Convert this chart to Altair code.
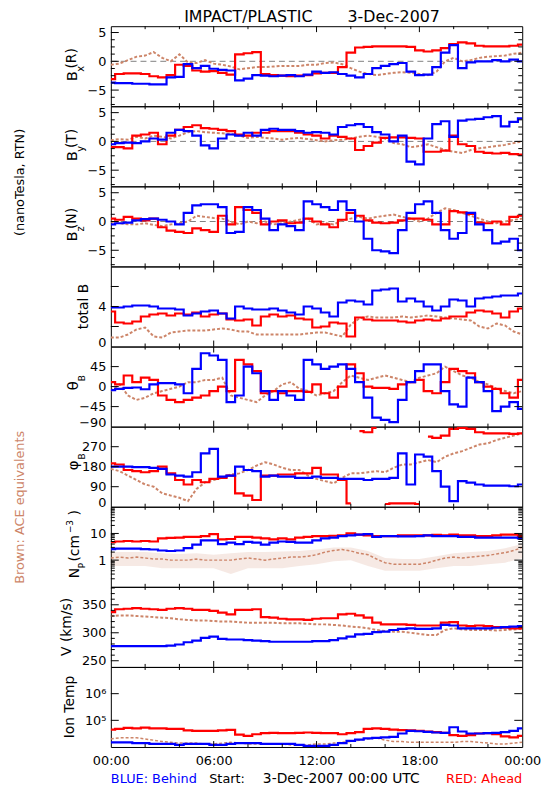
import altair as alt
import pandas as pd

FONT = "DejaVu Sans"
BLUE = "#0000ff"
RED = "#ff0000"
BROWN = "#cd8569"
W = 416
H = 80.9

# ---------------- time grids (hours after 3-Dec-2007 00:00 UTC) ----------------
T = [0, 0.5, 1, 1.5, 2, 2.5, 3, 3.5, 4, 4.5, 5, 5.5, 6, 6.5, 7, 7.5, 8, 8.5, 9, 9.5,
     10, 10.5, 11, 11.5, 12, 12.5, 13, 13.5, 14, 14.5, 15, 15.5, 16, 16.5, 17, 17.5,
     18, 18.5, 19, 19.5, 20, 20.5, 21, 21.5, 22, 22.5, 23, 23.5, 24]
TH = [0, 1, 2, 3, 4, 5, 6, 7, 8, 9, 10, 11, 12, 13, 14, 15, 16, 17, 18, 19, 20, 21, 22, 23, 24]

# ---------------- Bx (R) ----------------
BX_RED = [-3.1, -2.2, -2.1, -2.1, -2.2, -2.6, -2.8, -2.4, -0.6, -0.8, -1.6, -1.8, -1.7, -2.0, -2.3, 1.2,
          1.4, 1.6, -2.2, -2.4, -2.5, -2.6, -2.5, -2.4, -2.1, -2.0, -2.0, -1.0, 1.5, 2.4, 2.5, 2.6,
          2.6, 2.6, 2.6, 2.5, 1.9, 1.7, 1.9, 2.3, 3.0, 3.3, 3.1, 2.7, 2.6, 2.6, 2.6, 2.7, 2.9]
BX_BLUE = [-3.7, -3.8, -3.8, -3.9, -3.9, -4.0, -4.0, -2.8, -2.7, -0.5, -1.2, -0.8, -1.3, -1.5, -1.6, -3.3,
           -3.0, -2.4, -2.5, -2.6, -2.5, -2.4, -2.6, -2.3, -1.8, -2.0, -1.9, -2.2, -2.5, -2.8, -2.2, -1.2,
           -0.8, -0.5, -0.3, -1.8, -2.4, -2.3, -1.0, 1.5, 2.8, -1.2, -0.2, 0.0, 0.0, 0.2, 0.0, 0.3, 0.0]
BX_BROWN = [-0.6, -0.4, 0.2, 0.8, 1.0, 1.6, 0.6, 0.0, 1.2, -0.2, -0.3, 0.2, -0.4, -0.6, -0.9, -1.4,
            -1.2, -1.0, -1.0, -0.9, -0.8, -0.8, -0.8, -0.6, -0.6, -0.3, -0.2, -0.5, -1.2, -1.8, -2.2, -2.4,
            -2.2, -2.0, -1.9, -2.0, -2.2, -2.4, -1.8, 0.0, 0.6, 0.0, 0.2, 0.6, 0.8, 0.9, 1.0, 1.3, 1.5]

# ---------------- By (T) ----------------
BY_RED = [-1.0, -1.0, -1.2, 1.0, 1.2, 1.5, -0.5, 1.0, 2.0, 2.5, 2.8, 2.3, 2.2, 2.0, 1.8, 1.2,
          1.0, 1.5, 1.5, 1.8, 1.8, 1.8, 1.5, 1.2, 1.0, 0.5, 1.0, 0.8, 0.5, -1.5, -0.8, -0.2,
          0.6, 0.7, 0.7, 0.6, 0.5, -1.8, -1.8, -1.6, 1.0, -0.5, -0.8, -1.8, -2.0, -2.1, -2.0, -2.2, -2.3]
BY_BLUE = [-0.5, -0.3, -0.2, -0.3, 0.0, 0.5, 0.3, 1.5, 2.0, 1.8, 1.0, -0.7, -1.2, 0.5, 1.2, 1.0,
           1.5, 1.0, 2.0, 2.2, 2.0, 2.0, 1.8, 1.5, 1.6, 1.5, 1.2, 2.5, 2.8, 3.0, 2.5, 1.6,
           1.2, 0.0, 1.0, -3.5, -4.0, 0.5, 3.0, 3.5, 0.8, 3.6, 3.8, 3.9, 4.2, 4.4, 2.6, 3.4, 4.0]
BY_BROWN = [0.2, 0.4, 0.3, 0.8, 0.5, 1.0, 0.8, 0.5, 1.0, 1.6, 1.8, 1.6, 1.5, 1.4, 1.3, 1.0,
            0.6, 0.8, 0.6, 0.5, 0.3, 0.5, 0.6, 0.4, 0.2, 0.0, 0.2, 0.3, 0.5, 0.8, 1.0, 0.8,
            0.5, -0.3, -0.5, -1.0, -0.8, -0.5, -1.0, -1.5, -1.8, -2.0, -1.5, -1.2, -1.0, -0.8, -0.6, -0.3, 0.0]

# ---------------- Bz (N) ----------------
BZ_RED = [0.5, 0.3, 0.8, 0.5, 0.2, 0.5, -1.0, -1.6, -1.8, -2.0, -1.2, -1.5, -1.8, 1.0, -0.5, 2.5,
          2.0, 1.5, -0.5, 0.0, 0.2, -0.3, -0.2, 0.5, 0.0, -0.5, -1.0, 0.3, 1.5, 1.0, 0.2, -0.2,
          -0.3, -0.2, 0.2, 0.5, 0.5, 0.3, -0.5, -0.5, 1.8, 1.6, 1.3, -0.2, -0.3, 0.0, -0.5, 0.8, 1.0]
BZ_BLUE = [-0.5, -0.3, -0.2, 0.2, 0.4, 0.5, 0.3, 0.0, -0.5, 1.5, 2.8, 3.0, 3.0, 2.5, -2.0, -1.8,
           2.5, 2.0, 0.5, -1.5, -0.5, -0.8, -1.5, 3.5, 3.0, 2.5, 2.0, 3.5, 2.0, 0.0, -3.0, -5.0,
           -5.2, -5.5, -1.5, 1.5, 3.0, 3.5, 1.5, -1.5, -3.0, -2.0, 1.5, -0.5, -1.5, -3.8, -3.5, -3.0, -5.0]
BZ_BROWN = [0.0, -0.3, -0.5, -0.5, -0.3, -0.6, -0.8, -0.5, -0.3, 0.0, 1.0, 0.8, 0.6, 0.5, 0.0, -0.5,
            0.0, -0.3, 0.0, -0.5, -0.3, 0.0, 0.3, 0.5, -0.5, -0.3, -0.5, 0.2, 0.5, 0.8, 0.5, 0.8,
            1.0, 1.2, 0.8, 0.5, 0.0, 0.5, 1.5, 2.3, 2.0, 1.5, 1.0, 0.5, 0.0, -0.3, 0.0, 0.3, 0.5]

# ---------------- total B ----------------
BT_BLUE = [3.9, 3.9, 4.0, 4.1, 4.1, 4.0, 3.8, 3.8, 3.7, 3.1, 3.3, 3.5, 3.6, 3.3, 2.8, 4.0,
           3.8, 3.7, 3.7, 3.8, 3.6, 3.4, 3.2, 4.0, 3.8, 3.4, 3.0, 4.4, 4.6, 4.5, 4.2, 5.6,
           5.7, 5.8, 4.5, 4.8, 4.5, 4.0, 3.6, 4.0, 4.7, 4.6, 4.0, 4.8, 4.9, 5.0, 5.1, 5.1, 5.3]
BT_RED = [3.5, 2.4, 2.3, 2.5, 3.0, 3.2, 3.3, 3.1, 3.3, 3.2, 3.4, 3.0, 3.2, 3.3, 2.7, 2.6,
          2.7, 2.1, 3.0, 3.2, 3.0, 3.1, 2.8, 2.7, 1.9, 2.0, 2.4, 2.3, 1.0, 2.9, 2.7, 2.6,
          2.6, 2.6, 2.5, 2.4, 2.6, 2.7, 2.6, 2.8, 3.0, 3.0, 3.4, 3.6, 3.5, 3.3, 2.9, 3.5, 3.8]
BT_BROWN = [0.9, 0.9, 1.2, 1.7, 1.9, 1.0, 0.9, 1.4, 1.5, 1.6, 1.6, 1.6, 1.7, 1.8, 1.7, 1.5,
            1.5, 1.2, 1.2, 1.2, 1.2, 1.2, 1.2, 1.3, 1.4, 1.4, 1.2, 1.0, 2.2, 2.8, 3.0, 2.9,
            2.9, 2.9, 3.0, 2.9, 3.0, 3.1, 3.0, 2.9, 2.8, 2.7, 2.6, 2.0, 1.8, 2.3, 2.1, 1.5, 1.2]

# ---------------- theta_B ----------------
TH_BLUE = [-8, -5, -3, -2, -6, 5, 8, 8, 5, -15, 40, 75, 70, 60, -35, -20,
           45, 30, -10, -30, -10, -20, -30, 60, 50, 40, 45, 50, 40, 10, -25, -70,
           -75, -80, -30, 10, 35, 50, 50, -10, -40, -45, 20, 10, -10, -55, -45, -35, -50]
TH_RED = [10, 5, 25, 10, 20, 15, -20, -30, -35, -30, -25, -20, -10, 0, -10, 60,
          50, 35, -15, -10, -15, -10, -10, -12, 5, -15, -25, 0, 50, 30, 0, -3,
          -3, -5, 5, 10, 15, -10, -15, 10, 40, 35, 30, 10, 0, -5, -15, -25, 15]
TH_BROWN = [-10, 5, -20, -30, -25, -15, -10, -5, 0, 10, 10, 15, 15, 20, -20, -25,
            -30, -35, -20, -10, 5, 10, -5, -10, -20, -15, -10, 10, 25, 20, 15, 20,
            25, 20, 15, 10, 20, 25, 30, 45, 35, 25, 20, 10, 5, -5, -10, -15, -10]

# ---------------- phi_B ----------------
PH_RED = [195, 190, 165, 160, 155, 160, 180, 150, 120, 100, 120, 110, 125, 130, 140, 60,
          50, 30, 140, 140, 145, 145, 150, 150, 175, 145, 145, 120, 15, 340, 335, 355,
          12, 15, 15, 15, 12, 315, 310, 320, 350, 355, 350, 335, 330, 330, 330, 328, 330]
PH_RED_SEG = [0, 0, 0, 0, 0, 0, 0, 0, 0, 0, 0, 0, 0, 0, 0, 0,
              0, 0, 0, 0, 0, 0, 0, 0, 0, 0, 0, 0, 0, 1, 1, 1,
              2, 2, 2, 2, 2, 3, 3, 3, 3, 3, 3, 3, 3, 3, 3, 3, 3]
PH_BLUE = [180, 180, 180, 178, 178, 175, 170, 145, 140, 135, 155, 240, 260, 135, 140, 180,
           165, 160, 135, 140, 135, 135, 130, 130, 135, 130, 130, 125, 125, 125, 120, 125,
           125, 130, 240, 100, 235, 225, 160, 90, 25, 115, 108, 100, 95, 95, 95, 92, 100]
PH_BROWN = [170, 160, 140, 120, 100, 90, 60, 50, 40, 25, 80, 110, 120, 130, 145, 150,
            165, 185, 200, 190, 175, 165, 165, 140, 125, 115, 105, 130, 150, 150, 155, 160,
            155, 175, 190, 190, 200, 210, 200, 225, 240, 250, 265, 280, 285, 300, 310, 320, 330]

# ---------------- Np (cm^-3) ----------------
NP_RED = [4.7, 5.0, 5.2, 5.0, 5.2, 5.0, 6.5, 6.8, 7.0, 7.5, 7.5, 8.0, 9.5, 6.0, 6.2, 7.5,
          7.5, 7.0, 6.5, 6.0, 6.5, 6.0, 7.0, 7.5, 8.0, 8.0, 8.2, 8.5, 10.0, 9.0, 8.5, 8.0,
          8.0, 8.0, 8.5, 8.5, 8.5, 8.5, 8.8, 8.5, 9.0, 8.5, 8.5, 8.0, 8.0, 8.5, 9.0, 9.0, 8.0]
NP_BLUE = [2.6, 2.7, 2.7, 2.7, 2.6, 2.5, 2.3, 2.2, 2.3, 2.8, 3.8, 5.5, 5.5, 4.0, 4.5, 4.0,
           4.8, 4.5, 3.8, 4.5, 5.0, 4.8, 4.5, 4.5, 5.5, 6.5, 7.0, 8.0, 8.5, 9.0, 9.5, 7.5,
           8.0, 8.0, 7.8, 7.8, 8.0, 8.5, 8.0, 8.0, 8.0, 7.5, 7.5, 7.0, 7.0, 7.0, 7.0, 7.0, 6.5]
NP_BROWN = [1.2, 1.3, 1.2, 1.3, 1.2, 1.1, 1.1, 1.0, 1.0, 1.0, 1.1, 1.0, 1.0, 1.0, 1.0, 1.1,
            1.2, 1.1, 1.0, 1.1, 1.2, 1.3, 1.3, 1.4, 1.6, 2.0, 2.3, 2.5, 2.2, 1.8, 1.6, 1.1,
            0.8, 0.7, 0.7, 0.7, 0.7, 0.8, 1.0, 1.2, 1.3, 1.2, 1.3, 1.4, 1.5, 1.7, 1.9, 2.3, 3.0]
NP_BROWN_LO = [0.6, 0.6, 0.6, 0.5, 0.5, 0.5, 0.5, 0.3, 0.5, 0.5, 0.5, 0.6, 0.7, 0.9, 1.0, 0.6,
               0.4, 0.4, 0.4, 0.5, 0.6, 0.6, 0.7, 0.8, 1.2]
NP_BROWN_HI = [2.0, 2.0, 2.0, 1.8, 1.7, 1.8, 1.6, 1.8, 2.0, 2.0, 2.1, 2.2, 2.5, 3.0, 3.0, 2.2,
               1.2, 1.1, 1.1, 1.4, 1.8, 2.0, 2.2, 2.8, 4.0]

# ---------------- V (km/s) ----------------
V_RED = [337, 342, 343, 344, 343, 342, 341, 343, 344, 343, 341, 341, 339, 336, 333, 341,
         341, 342, 328, 327, 325, 324, 324, 323, 325, 326, 326, 333, 334, 331, 327, 318,
         315, 315, 315, 314, 313, 313, 313, 318, 319, 313, 312, 313, 312, 310, 309, 308, 308]
V_BROWN = [330, 331, 331, 330, 329, 328, 327, 326, 324, 323, 322, 322, 321, 320, 320, 319,
           318, 318, 318, 318, 317, 317, 317, 316, 315, 315, 314, 313, 311, 310, 308, 305,
           303, 302, 302, 300, 298, 296, 296, 305, 308, 306, 305, 305, 305, 304, 305, 306, 307]
V_BLUE = [276, 276, 276, 276, 276, 276, 276, 277, 279, 283, 286, 291, 293, 289, 288, 288,
          287, 286, 285, 284, 284, 284, 284, 284, 285, 285, 287, 290, 293, 297, 298, 301,
          302, 305, 307, 308, 307, 307, 308, 314, 313, 308, 308, 308, 308, 309, 310, 311, 312]

# ---------------- Ion temperature (K) ----------------
TP_RED = [4.5e4, 4.8e4, 5.2e4, 5.0e4, 5.3e4, 5.0e4, 5.0e4, 4.8e4, 4.8e4, 4.2e4, 4.0e4, 4.0e4,
          4.0e4, 4.2e4, 4.4e4, 2.9e4, 2.6e4, 3.0e4, 3.3e4, 3.4e4, 3.3e4, 3.3e4, 3.4e4, 3.5e4,
          3.4e4, 3.3e4, 3.3e4, 3.0e4, 3.3e4, 3.6e4, 4.8e4, 5.0e4, 4.8e4, 4.5e4, 4.3e4, 4.2e4,
          4.0e4, 3.8e4, 3.6e4, 3.4e4, 2.8e4, 2.6e4, 2.8e4, 3.2e4, 3.3e4, 3.0e4, 2.5e4, 2.3e4, 2.6e4]
TP_BLUE = [1.5e4, 1.5e4, 1.5e4, 1.4e4, 1.4e4, 1.3e4, 1.3e4, 1.3e4, 1.2e4, 1.3e4, 1.3e4, 1.3e4,
           1.2e4, 1.2e4, 1.3e4, 1.4e4, 1.4e4, 1.4e4, 1.3e4, 1.3e4, 1.3e4, 1.3e4, 1.2e4, 1.1e4,
           1.1e4, 1.1e4, 1.2e4, 1.4e4, 1.7e4, 1.9e4, 2.1e4, 2.2e4, 2.3e4, 2.4e4, 3.2e4, 4.0e4,
           3.9e4, 3.7e4, 3.5e4, 3.4e4, 5.5e4, 3.8e4, 3.2e4, 3.2e4, 3.3e4, 3.4e4, 3.6e4, 4.0e4, 5.0e4]
TP_BROWN = [2.0e4, 2.2e4, 2.2e4, 2.2e4, 2.0e4, 1.8e4, 1.6e4, 1.5e4, 1.4e4, 1.4e4, 1.4e4, 1.3e4,
            1.3e4, 1.4e4, 1.5e4, 1.4e4, 1.3e4, 1.3e4, 1.3e4, 1.3e4, 1.3e4, 1.2e4, 1.2e4, 1.2e4,
            1.3e4, 1.3e4, 1.4e4, 1.5e4, 1.6e4, 1.8e4, 2.0e4, 2.2e4, 1.8e4, 1.6e4, 1.6e4, 1.5e4,
            1.5e4, 1.5e4, 1.5e4, 1.5e4, 1.5e4, 1.6e4, 1.6e4, 1.5e4, 1.4e4, 1.3e4, 1.3e4, 1.4e4, 1.5e4]
TP_BROWN_HI = [3.5e4, 3.5e4, 3.2e4, 2.6e4, 2.3e4, 2.0e4, 2.0e4, 2.2e4, 1.8e4, 1.7e4, 1.7e4, 1.6e4,
               1.8e4, 2.0e4, 2.5e4, 3.0e4, 2.5e4, 2.3e4, 2.3e4, 2.3e4, 2.5e4, 2.4e4, 2.2e4, 2.0e4, 2.2e4]

# ---------------- axis ticks / labels ----------------
X_LABEL_VALUES = [0, 6, 12, 18, 24]
X_LABELS = ["00:00", "06:00", "12:00", "18:00", "00:00"]
X_MAJOR = [6, 12, 18]
X_MINOR = [2, 4, 8, 10, 14, 16, 20, 22]

XS = alt.Scale(domain=[0, 24], nice=False, zero=False)


def xenc(bottom):
    if bottom:
        arr = "[" + ",".join("'%s'" % s for s in X_LABELS) + "]"
        ax = alt.Axis(values=X_LABEL_VALUES, labelExpr=arr + "[round(datum.value/6)]",
                      ticks=False, tickSize=0, domain=False, grid=False, labelFont=FONT,
                      labelFontSize=13, labelPadding=8, labelFlush=False, labelColor="black",
                      labelOverlap=False, title=None)
    else:
        ax = None
    return alt.X("t:Q", scale=XS, axis=ax)


def series(vals, color, t=T, seg=None, dash=None, width=2.2, interp="step"):
    d = {"t": t, "v": vals}
    if seg is not None:
        d["seg"] = seg
    df = pd.DataFrame(d)

    def build(X, Y):
        mk = dict(color=color, strokeWidth=width, clip=True, interpolate=interp)
        if dash is not None:
            mk["strokeDash"] = dash
        enc = dict(x=X, y=Y("v"))
        if seg is not None:
            enc["detail"] = "seg:N"
        return alt.Chart(df).mark_line(**mk).encode(**enc)
    return build


def brown(vals, width=2.0):
    return series(vals, BROWN, dash=[3, 2], width=width, interp="linear")


def band(hi, lo=None, t=TH, opacity=0.3):
    d = {"t": t, "hi": hi}
    if lo is not None:
        d["lo"] = lo
    df = pd.DataFrame(d)

    def build(X, Y):
        y2 = alt.Y2("lo:Q") if lo is not None else alt.value(H)
        return alt.Chart(df).mark_area(color=BROWN, opacity=opacity, clip=True).encode(
            x=X, y=Y("hi"), y2=y2)
    return build


def zero_line():
    df = pd.DataFrame({"v": [0]})

    def build(X, Y):
        return alt.Chart(df).mark_rule(color="#808080", strokeDash=[6, 4], strokeWidth=1).encode(y=Y("v"))
    return build


def lab(s, x, y, size=14, color="black", angle=270, align="center"):
    return alt.Chart(pd.DataFrame({"s": [s]})).mark_text(
        font=FONT, fontSize=size, color=color, angle=angle, align=align, baseline="middle"
    ).encode(text="s:N", x=alt.value(x), y=alt.value(y))


def make_panel(yscale, yvals, ymajor, yminor, builders, labels, labexpr=None, bottom=False):
    axkw = dict(values=yvals, ticks=False, tickSize=0, domain=False, grid=False,
                labelFont=FONT, labelFontSize=13, labelPadding=5, labelFlush=True,
                labelFlushOffset=3, labelOverlap=False, labelColor="black", title=None)
    if labexpr is not None:
        axkw["labelExpr"] = labexpr
    yax = alt.Axis(**axkw)
    X = xenc(bottom)

    def Y(f):
        return alt.Y(f + ":Q", scale=yscale, axis=yax)

    layers = [b(X, Y) for b in builders]
    for vals, L in ((X_MAJOR, 6), (X_MINOR, 3)):
        r = alt.Chart(pd.DataFrame({"t": vals})).mark_rule(color="black", strokeWidth=1)
        layers.append(r.encode(x=X, y=alt.value(0), y2=alt.value(L)))
        layers.append(r.encode(x=X, y=alt.value(H), y2=alt.value(H - L)))
    for vals, L in ((ymajor, 8), (yminor, 4)):
        if not vals:
            continue
        r = alt.Chart(pd.DataFrame({"v": vals})).mark_rule(color="black", strokeWidth=1)
        layers.append(r.encode(y=Y("v"), x=alt.value(0), x2=alt.value(L)))
        layers.append(r.encode(y=Y("v"), x=alt.value(W), x2=alt.value(W - L)))
    layers += labels
    return alt.layer(*layers).properties(width=W, height=H)


BSCALE = alt.Scale(domain=[-7.8, 6.1], nice=False, zero=False)
B_MAJOR = [-5, 0, 5]
B_MINOR = [-7.5, -6.25, -3.75, -2.5, -1.25, 1.25, 2.5, 3.75]


def bcomp_labels(sub, paren):
    return [lab("B", -39.5, 50.5, size=15), lab(sub, -30, 43, size=10),
            lab(paren, -39, 32.5, size=14)]


p1 = make_panel(BSCALE, [-5, 0, 5], B_MAJOR, B_MINOR,
                [zero_line(), brown(BX_BROWN), series(BX_RED, RED), series(BX_BLUE, BLUE)],
                bcomp_labels("x", "(R)") + [
                    lab("IMPACT/PLASTIC", 139, -9, size=16, angle=0),
                    lab("3-Dec-2007", 286, -9, size=16, angle=0)])

p2 = make_panel(BSCALE, [-5, 0, 5], B_MAJOR, B_MINOR,
                [zero_line(), brown(BY_BROWN), series(BY_RED, RED), series(BY_BLUE, BLUE)],
                bcomp_labels("y", "(T)"))

p3 = make_panel(BSCALE, [-5, 0, 5], B_MAJOR, B_MINOR,
                [zero_line(), brown(BZ_BROWN), series(BZ_RED, RED), series(BZ_BLUE, BLUE)],
                bcomp_labels("z", "(N)") + [lab("(nanoTesla, RTN)", -91.5, -4, size=13)])

p4 = make_panel(alt.Scale(domain=[0, 8], nice=False, zero=False), [0, 4], [2, 4, 6], [],
                [brown(BT_BROWN), series(BT_RED, RED), series(BT_BLUE, BLUE)],
                [lab("total B", -27, 40.5, size=14)])

p5 = make_panel(alt.Scale(domain=[-90, 90], nice=False, zero=False), [-90, -45, 0, 45], [-45, 0, 45], [],
                [brown(TH_BROWN), series(TH_RED, RED), series(TH_BLUE, BLUE)],
                [lab("θ", -38, 39.5, size=15), lab("B", -29, 32, size=9)])

p6 = make_panel(alt.Scale(domain=[0, 360], nice=False, zero=False), [0, 90, 180, 270], [90, 180, 270], [],
                [brown(PH_BROWN), series(PH_RED, RED, seg=PH_RED_SEG), series(PH_BLUE, BLUE)],
                [lab("φ", -38, 39, size=15), lab("B", -29, 30, size=9)])

p7 = make_panel(alt.Scale(type="log", domain=[0.1, 100], nice=False), [1, 10], [1, 10],
                [0.2, 0.3, 0.4, 0.5, 0.6, 0.7, 0.8, 0.9, 2, 3, 4, 5, 6, 7, 8, 9,
                 20, 30, 40, 50, 60, 70, 80, 90],
                [band(NP_BROWN_HI, NP_BROWN_LO, opacity=0.18), brown(NP_BROWN, width=1.5),
                 series(NP_RED, RED), series(NP_BLUE, BLUE)],
                [lab("N", -36, 67, size=14), lab("P", -29.5, 59.5, size=9),
                 lab("(cm", -36, 42, size=14), lab("−3", -41, 20, size=9),
                 lab(")", -36, 6, size=14),
                 lab("Brown: ACE equivalents", -91.5, 0.5, size=13, color=BROWN)],
                labexpr="datum.value >= 10 ? '10' : '1'")

p8 = make_panel(alt.Scale(domain=[239, 382], nice=False, zero=False), [250, 300, 350], [250, 300, 350],
                [260, 270, 280, 290, 310, 320, 330, 340, 360, 370, 380],
                [brown(V_BROWN), series(V_RED, RED), series(V_BLUE, BLUE)],
                [lab("V (km/s)", -44, 40.5, size=14)])

p9 = make_panel(alt.Scale(type="log", domain=[1e4, 1e7], nice=False), [1e5, 1e6], [1e5, 1e6], [],
                [band(TP_BROWN_HI, None, opacity=0.25), brown(TP_BROWN, width=1.5),
                 series(TP_RED, RED), series(TP_BLUE, BLUE)],
                [lab("Ion Temp", -41, 40.5, size=14),
                 lab("BLUE: Behind", 0, H + 32, size=13, color=BLUE, angle=0, align="left"),
                 lab("Start:", 117.5, H + 32, size=13, angle=0),
                 lab("3-Dec-2007 00:00 UTC", 233, H + 32, size=14, angle=0),
                 lab("RED: Ahead", W, H + 32, size=13, color=RED, angle=0, align="right")],
                labexpr="datum.value >= 1e6 ? '10⁶' : '10⁵'", bottom=True)

chart = alt.vconcat(p1, p2, p3, p4, p5, p6, p7, p8, p9, spacing=0, bounds="flush").properties(
    padding={"left": 5, "top": -4, "right": 0, "bottom": 0},
    background="white",
).configure_view(stroke="black", strokeWidth=1).configure_axis(grid=False)

chart.save("out.html", embed_options={"renderer": "svg", "actions": False})
